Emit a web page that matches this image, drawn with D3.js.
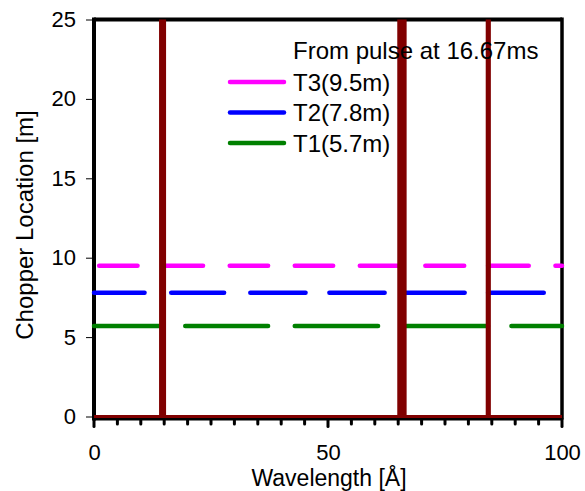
<!DOCTYPE html>
<html>
<head>
<meta charset="utf-8">
<script src="https://cdn.jsdelivr.net/npm/d3@7"></script>
<style>
  html, body { margin: 0; padding: 0; background: #fff; }
  svg { display: block; font-family: "Liberation Sans", Arial, sans-serif; }
</style>
</head>
<body>
<svg id="chart" width="585" height="491"></svg>
<script>
// Axis ticks
const wavelengthTicks = [0, 50, 100];
const wavelengthMinorTicks = d3.range(0, 101, 5);
const locationTicks = [0, 5, 10, 15, 20, 25];

// Chopper locations [m] and legend labels
const seriesNames = ["T3(9.5m)", "T2(7.8m)", "T1(5.7m)"];
const seriesLocations = [9.5, 7.8, 5.7];
const seriesColors = ["#ff00ff", "#0000ff", "#008000"];

// Open wavelength windows [Å] seen at each chopper
const t3Windows = [[1.1, 9.3], [14.9, 23.3], [29.0, 37.2], [42.9, 51.1], [56.8, 65.0], [70.8, 79.1], [84.2, 92.9], [98.6, 100.0]];
const t2Windows = [[0.0, 10.8], [16.5, 27.8], [33.4, 45.2], [50.3, 62.1], [65.8, 79.2], [84.2, 96.1]];
const t1Windows = [[0.0, 14.6], [19.5, 37.2], [42.9, 60.7], [65.8, 84.2], [89.2, 100.0]];
const seriesWindows = [t3Windows, t2Windows, t1Windows];

// Pulse frames reaching the choppers: wavelength bands [Å] spanning all locations
const pulseBands = [[13.9, 15.4], [64.8, 66.8], [83.7, 84.8]];
const sourceLine = [[0, 100]]; // source position (0 m) over the full range

const legendTitle = "From pulse at 16.67ms";

const svg = d3.select("#chart");
const x = d3.scaleLinear().domain([0, 100]).range([94, 562]);
const y = d3.scaleLinear().domain([0, 25]).range([416.5, 19.5]);

const darkRed = "#800000";

// frame: top and right borders
svg.append("line").attr("x1", x(0)).attr("x2", x(100)).attr("y1", y(25)).attr("y2", y(25))
  .attr("stroke", "#000").attr("stroke-width", 4);
svg.append("line").attr("x1", x(100)).attr("x2", x(100)).attr("y1", y(25) - 2).attr("y2", y(0) + 3)
  .attr("stroke", "#000").attr("stroke-width", 3.5);

// y axis
const yAxis = d3.axisLeft(y).tickValues(locationTicks).tickSize(6).tickPadding(10);
const gy = svg.append("g").attr("transform", `translate(${x(0) - 2},0)`).call(yAxis);
gy.select(".domain").remove();
gy.selectAll(".tick line").attr("stroke", "#000").attr("stroke-width", 1);
gy.selectAll(".tick text").attr("font-size", 22).attr("fill", "#000")
  .attr("font-family", "'Liberation Sans', Arial, sans-serif");
svg.append("line").attr("x1", x(0)).attr("x2", x(0)).attr("y1", y(25) - 2).attr("y2", y(0) + 4)
  .attr("stroke", "#000").attr("stroke-width", 4);

// x axis: black baseline with rounded minor ticks
const gx = svg.append("g").attr("transform", `translate(0,${y(0) + 2.5})`);
gx.append("line").attr("x1", x(0)).attr("x2", x(100)).attr("y1", 0).attr("y2", 0)
  .attr("stroke", "#000").attr("stroke-width", 3);
gx.selectAll("line.minor").data(wavelengthMinorTicks).join("line").attr("class", "minor")
  .attr("x1", d => x(d)).attr("x2", d => x(d)).attr("y1", 0)
  .attr("y2", d => (wavelengthTicks.includes(d) ? 7.5 : 5))
  .attr("stroke", "#000").attr("stroke-width", 3).attr("stroke-linecap", "round");
const xAxis = d3.axisBottom(x).tickValues(wavelengthTicks).tickSize(0).tickPadding(0);
const gxl = svg.append("g").attr("transform", `translate(0,${y(0)})`).call(xAxis);
gxl.select(".domain").remove();
gxl.selectAll(".tick text").attr("font-size", 22).attr("fill", "#000")
  .attr("font-family", "'Liberation Sans', Arial, sans-serif")
  .attr("dy", null).attr("y", 43);

// open windows at each chopper
seriesWindows.forEach((wins, i) => {
  svg.append("g").selectAll("line").data(wins).join("line")
    .attr("x1", d => x(d[0])).attr("x2", d => x(d[1]))
    .attr("y1", y(seriesLocations[i])).attr("y2", y(seriesLocations[i]))
    .attr("stroke", seriesColors[i]).attr("stroke-width", 4.5).attr("stroke-linecap", "round");
});

// source line at 0 m
svg.append("g").selectAll("line").data(sourceLine).join("line")
  .attr("x1", d => x(d[0])).attr("x2", d => x(d[1]))
  .attr("y1", y(0)).attr("y2", y(0))
  .attr("stroke", darkRed).attr("stroke-width", 3);

// pulse bands
svg.append("g").selectAll("rect").data(pulseBands).join("rect")
  .attr("x", d => x(d[0])).attr("width", d => x(d[1]) - x(d[0]))
  .attr("y", y(25)).attr("height", y(0) - y(25))
  .attr("fill", darkRed);

// legend
const legend = svg.append("g");
legend.append("text").attr("x", 293).attr("y", 59).attr("font-size", 24).attr("fill", "#000")
  .text(legendTitle);
seriesNames.forEach((name, i) => {
  const ly = 82 + i * 30.5;
  legend.append("line").attr("x1", 230).attr("x2", 284).attr("y1", ly).attr("y2", ly)
    .attr("stroke", seriesColors[i]).attr("stroke-width", 4.5).attr("stroke-linecap", "round");
  legend.append("text").attr("x", 293).attr("y", ly + 8.5).attr("font-size", 24).attr("fill", "#000")
    .text(name);
});

// axis titles
svg.append("text").attr("x", 329).attr("y", 485.5).attr("text-anchor", "middle")
  .attr("font-size", 23).attr("fill", "#000").text("Wavelength [Å]");
svg.append("text").attr("transform", "translate(33,225) rotate(-90)").attr("text-anchor", "middle")
  .attr("font-size", 24).attr("fill", "#000").text("Chopper Location [m]");
</script>
</body>
</html>
